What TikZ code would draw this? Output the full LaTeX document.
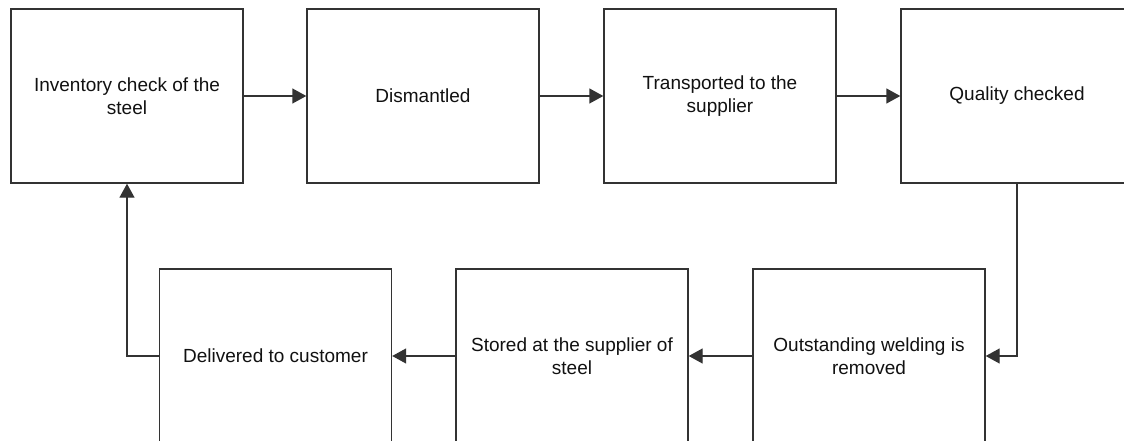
\documentclass[tikz,border=0pt]{standalone}
\usepackage{fontspec}
\setmainfont{Liberation Sans}
\usetikzlibrary{arrows.meta}
\definecolor{edge}{HTML}{333333}
\definecolor{ink}{HTML}{111111}
\begin{document}
\begin{tikzpicture}[x=1pt,y=-1pt,
  stepbox/.style={draw=edge,line width=1.4pt,fill=white,minimum width=232pt,
    minimum height=174pt,inner sep=0pt,align=center,text=ink,
    font=\fontsize{19pt}{23.5pt}\selectfont},
  link/.style={draw=edge,line width=1.4pt,-{Triangle[length=14pt,width=15pt]}}]
  \useasboundingbox (0,0) rectangle (1124,441);
  \clip (0,0) rectangle (1124,441);
  % top row, left to right
  \node[stepbox] (inv) at (127,96) {Inventory check of the\\steel};
  \node[stepbox] (dis) at (423,96) {Dismantled};
  \node[stepbox] (tra) at (720,96) {Transported to the\\supplier};
  \node[stepbox] (qua) at (1017,96) {Quality checked};
  % bottom row, right to left
  \node[stepbox] (wel) at (869,356) {Outstanding welding is\\removed};
  \node[stepbox] (sto) at (572,356) {Stored at the supplier of\\steel};
  \node[stepbox] (del) at (275.5,356) {Delivered to customer};
  % process flow
  \draw[link] (inv) -- (dis);
  \draw[link] (dis) -- (tra);
  \draw[link] (tra) -- (qua);
  \draw[link] (qua.south) |- (wel.east);
  \draw[link] (wel) -- (sto);
  \draw[link] (sto) -- (del);
  \draw[link] (del.west) -| (inv.south);
\end{tikzpicture}
\end{document}
